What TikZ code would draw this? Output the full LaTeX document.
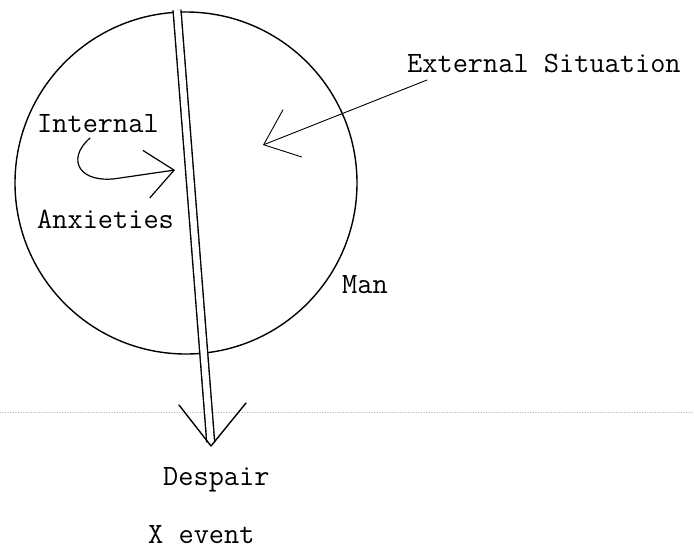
\documentclass[tikz,border=0pt]{standalone}
\usetikzlibrary{arrows.meta,calc}
\tikzset{
  typed/.style={font=\ttfamily\fontsize{29.5}{31}\selectfont, inner sep=0pt, anchor=base west},
}
\begin{document}
\begin{tikzpicture}[x=1pt,y=-1pt,line join=round,line cap=round,>=stealth]
				\useasboundingbox (0,0) rectangle (694,552);
				\draw[gray!60, dotted, line width=0.6pt] (0,412) -- (694,412);
				
				\node[circle, draw, line width=1.4pt, minimum size=342pt, inner sep=0pt] (man circle) at (186,183) {};
				
				\coordinate (shaft top) at (177,10);
				\coordinate (shaft tip) at (211,446);
				\coordinate (wing left) at (179,405);
				\coordinate (wing right) at (246,403);
				\draw[line width=1.4pt, line cap=butt, double=white, double distance=6.5pt] (shaft top) -- ($(shaft tip)!4pt!(shaft top)$);
				\draw[line width=1.4pt] (wing left) -- (shaft tip) -- (wing right);
				
				\node[typed] (internal) at (37,132) {Internal};
				\node[typed] (anxieties) at (37,228) {Anxieties};
				\node[typed] (external) at (407,72) {External Situation};
				\node[typed] (man) at (342,293) {Man};
				\node[typed] (despair) at (163,485) {Despair};
				\node[typed] (x event) at (148,543) {X event};
				
				\coordinate (curl start) at (90,138);
				\coordinate (curl bend) at (120,178);
				\coordinate (curl tip) at (175,170);
				\draw[line width=1.2pt, -{Straight Barb[length=28pt,width=48pt,line width=1.2pt]}] (curl start) .. controls (65,160) and (80,185) .. (curl bend) -- (curl tip);
				
				\coordinate (ext tail) at (427,80);
				\coordinate (ext tip) at (263,145);
				\draw[line width=0.9pt, -{Straight Barb[length=31pt,width=51pt,line width=0.9pt]}] (ext tail) -- (ext tip);
			\end{tikzpicture}
\end{document}
